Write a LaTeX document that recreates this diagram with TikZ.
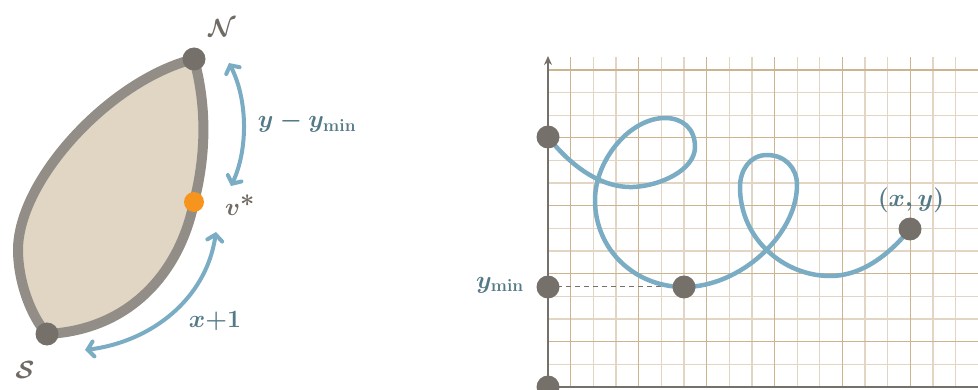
\documentclass[tikz,border=0pt]{standalone}
\usetikzlibrary{arrows.meta}
\definecolor{leafFill}{RGB}{224,214,195}
\definecolor{leafLine}{RGB}{146,141,134}
\definecolor{dotGray}{RGB}{118,112,106}
\definecolor{dotOrange}{RGB}{247,148,30}
\definecolor{curveBlue}{RGB}{122,172,196}
\definecolor{labTeal}{RGB}{84,122,135}
\definecolor{vertGray}{RGB}{112,106,100}
\definecolor{gridA}{RGB}{203,180,142}
\definecolor{gridB}{RGB}{226,213,195}
\tikzset{
  dotg/.style={circle,fill=dotGray,inner sep=0pt,minimum size=23pt},
  doto/.style={circle,fill=dotOrange,inner sep=0pt,minimum size=20pt},
  vlab/.style={text=vertGray,font=\fontsize{42}{44}\selectfont\boldmath},
  vlabv/.style={text=vertGray,font=\fontsize{48}{50}\selectfont\boldmath},
  tlab/.style={text=labTeal,font=\fontsize{26}{28}\selectfont\boldmath},
  barb/.style={draw=curveBlue,line width=4pt,line cap=round,
    {Straight Barb[length=6pt,width=15pt,line cap=round]}-{Straight Barb[length=6pt,width=15pt,line cap=round]}},
  gridl/.style={line width=1.3pt},
  axisline/.style={draw=dotGray,line width=2pt},
  curve/.style={draw=curveBlue,line width=4.5pt,line cap=round,line join=round}
}
\begin{document}
\begin{tikzpicture}[x=1pt,y=-1pt]
\useasboundingbox (0,0) rectangle (978,390);
\clip (0,0) rectangle (978,390);
% ---------- left: leaf ----------
\coordinate (Sc) at (47,334);
\coordinate (Nc) at (194,59);
\coordinate (Vc) at (194,202);
\draw[fill=leafFill,draw=leafLine,line width=10pt,line join=round]
  (Sc) .. controls (30,315) and (18,280) .. (18,250)
       .. controls (18,180) and (110,80) .. (Nc)
       .. controls (208,110) and (205,160) .. (Vc)
       .. controls (180,272) and (130,330) .. (Sc) -- cycle;
\node[dotg] (N) at (Nc) {};
\node[dotg] (S) at (Sc) {};
\node[doto] (V) at (Vc) {};
\node[vlab] (Nl) at (222,28) {$\mathcal{N}$};
\node[vlab] (Sl) at (25,370) {$\mathcal{S}$};
\node[vlabv] (Vl) at (240,205) {$v^{*}$};
\coordinate (a1) at (229,63);
\coordinate (a2) at (231,186);
\coordinate (b1) at (216,232);
\coordinate (b2) at (85,350);
\draw[barb] (a1) .. controls (248,100) and (248,150) .. (a2);
\draw[barb] (b1) .. controls (206,300) and (150,342) .. (b2);
\node[tlab] (l1) at (307,122) {$y-y_{\mathrm{min}}$};
\node[tlab] (l2) at (215,321) {$x{+}1$};
% ---------- right: grid ----------
\foreach \i in {2,3,5,6,8,9,11,12,14,15,17,18} \draw[gridl,draw=gridB] ({548+22.65*\i},57.5) -- ({548+22.65*\i},387);
\foreach \j in {1,3,4,6,7,9,10,12,13} \draw[gridl,draw=gridB] (548,{387-22.65*\j}) -- (978,{387-22.65*\j});
\foreach \i in {1,4,...,19} \draw[gridl,draw=gridA] ({548+22.65*\i},57.5) -- ({548+22.65*\i},387);
\foreach \j in {2,5,...,14} \draw[gridl,draw=gridA] (548,{387-22.65*\j}) -- (978,{387-22.65*\j});
\coordinate (top) at (548,56);
\coordinate (right) at (990,387);
\node[dotg] (O) at (548,387) {};
\draw[axisline,-{Stealth[length=9pt,width=8pt]}] (O.center) -- (top);
\draw[axisline] (O.center) -- (right);
\node[dotg] (Ym) at (548,287) {};
\coordinate (P0) at (548,137);
\coordinate (Pmc) at (684,287);
\coordinate (Pec) at (910,229);
\draw[dotGray,line width=1pt,dash pattern=on 5pt off 4pt] (Ym.center) -- (Pmc);
\draw[curve] (P0) .. controls (570,165) and (600,188) .. (633,187)
  .. controls (660,186) and (695,170) .. (695,147)
  .. controls (695,128) and (682,118) .. (665,118)
  .. controls (630,118) and (595,160) .. (595,200)
  .. controls (595,250) and (635,287) .. (Pmc)
  .. controls (740,287) and (797,235) .. (797,185)
  .. controls (797,168) and (785,155) .. (767,155)
  .. controls (750,155) and (740,170) .. (740,187)
  .. controls (740,240) and (785,276) .. (830,276)
  .. controls (865,276) and (893,250) .. (Pec);
\node[dotg] (Pm) at (Pmc) {};
\node[dotg] (Pe) at (Pec) {};
\node[dotg] (Y0) at (P0) {};
\node[tlab] (ylab) at (500,285) {$y_{\mathrm{min}}$};
\node[tlab] (xylab) at (911,200) {$(x,y)$};
\end{tikzpicture}
\end{document}
